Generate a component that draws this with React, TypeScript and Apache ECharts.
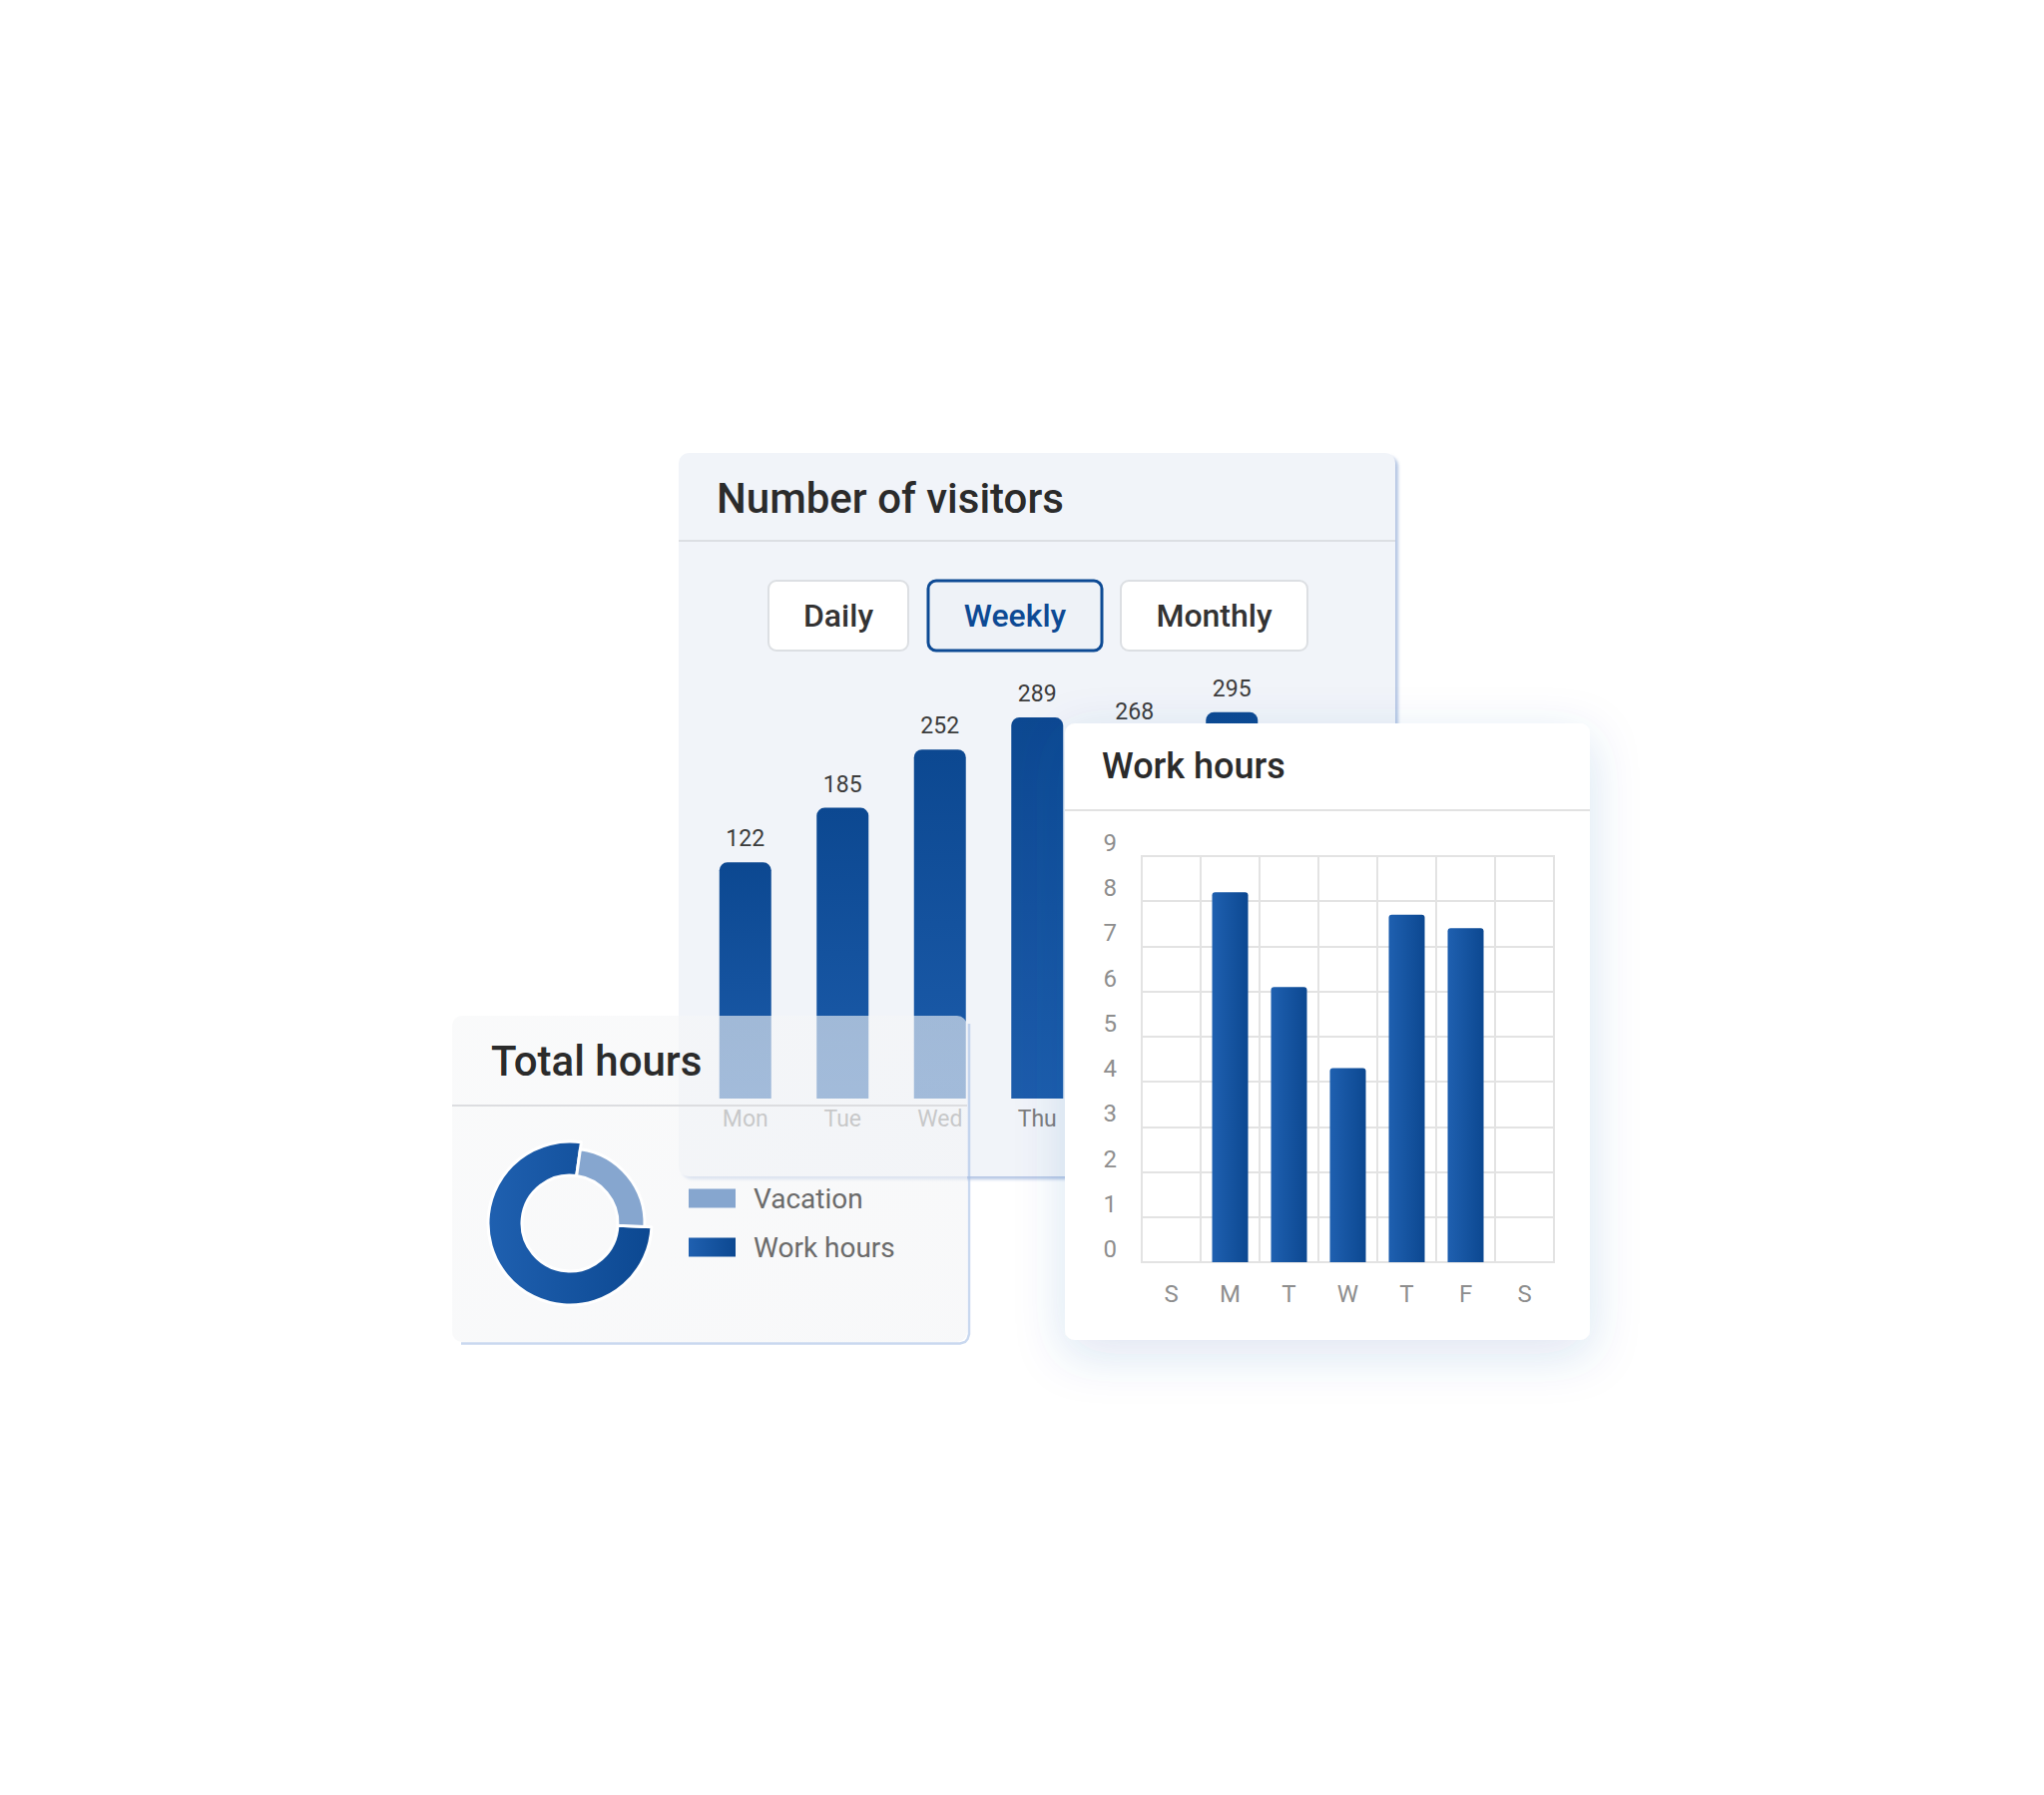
import { useEffect, useRef } from "react";
import * as echarts from "echarts";

// visitors card
const visitorDays = ["Mon", "Tue", "Wed", "Thu", "Fri", "Sat"];
const visitorCounts = [122, 185, 252, 289, 268, 295];
const periodTabs = ["Daily", "Weekly", "Monthly"];
const activeTab = "Weekly";

// total hours card
const shareNames = ["Vacation", "Work hours"];
const shareValues = [23.5, 76.5];

// work hours card
const workDays = ["S", "M", "T", "W", "T", "F", "S"];
const workHours = [0, 8.2, 6.1, 4.3, 7.7, 7.4, 0];

// the mockup bars all start from a common pedestal below the value
const VISITOR_BASE = 150;

const FONT = "Roboto";
const BLUE_DARK = "#0c4891";
const BLUE_LIGHT = "#1f60b0";
const VACATION = "#86a6cf";

export default function App() {
  const chartRef = useRef<HTMLDivElement>(null);

  useEffect(() => {
    if (!chartRef.current) return;
    const chart = echarts.init(chartRef.current, undefined, { renderer: "svg" });

    const vGrad = () =>
      new echarts.graphic.LinearGradient(0, 0, 0, 1, [
        { offset: 0, color: BLUE_DARK },
        { offset: 1, color: "#1c5cab" },
      ]);
    const hGrad = () =>
      new echarts.graphic.LinearGradient(0, 0, 1, 0, [
        { offset: 0, color: BLUE_LIGHT },
        { offset: 1, color: BLUE_DARK },
      ]);

    const tabBoxes = [
      { x: 770, w: 140 },
      { x: 930, w: 174 },
      { x: 1123, w: 187 },
    ];

    const tabGraphics = periodTabs.flatMap((name, i) => {
      const b = tabBoxes[i];
      const on = name === activeTab;
      return [
        {
          type: "rect",
          z: 1,
          shape: { x: b.x, y: 582, width: b.w, height: 70, r: 8 },
          style: {
            fill: on ? "#eef2f7" : "#ffffff",
            stroke: on ? "#0d4a94" : "#dcdfe3",
            lineWidth: on ? 3 : 2,
          },
        },
        {
          type: "text",
          z: 1,
          x: b.x + b.w / 2,
          y: 617,
          style: {
            text: name,
            fontSize: 32,
            fontWeight: 500,
            fontFamily: FONT,
            fill: on ? "#0d4a94" : "#333333",
            align: "center",
            verticalAlign: "middle",
          },
        },
      ];
    });

    const title = (text: string, x: number, y: number, size: number, z: number) => ({
      type: "text",
      z,
      x,
      y,
      style: {
        text,
        fontSize: size,
        fontWeight: 500,
        fontFamily: FONT,
        fill: "#2b2b2b",
        align: "left",
        verticalAlign: "middle",
      },
    });

    const divider = (x1: number, x2: number, y: number, z: number, color: string) => ({
      type: "line",
      z,
      shape: { x1, y1: y, x2, y2: y },
      style: { stroke: color, lineWidth: 2 },
    });

    chart.setOption({
      animation: false,
      backgroundColor: "#ffffff",
      textStyle: { fontFamily: FONT },
      graphic: [
        // Number of visitors card
        {
          type: "rect",
          z: 0,
          shape: { x: 680, y: 454, width: 718, height: 725, r: 10 },
          style: {
            fill: "#f1f4f9",
            shadowColor: "rgba(120,150,205,0.55)",
            shadowBlur: 3,
            shadowOffsetX: 3,
            shadowOffsetY: 3,
          },
        },
        title("Number of visitors", 718, 499, 42, 1),
        divider(680, 1398, 542, 1, "#dcdfe3"),
        ...tabGraphics,
        // Total hours card (frosted glass)
        {
          type: "rect",
          z: 3,
          shape: { x: 453, y: 1018, width: 516, height: 327, r: 10 },
          style: {
            fill: new echarts.graphic.LinearGradient(0, 0, 1, 1, [
              { offset: 0, color: "rgba(246,247,248,0.62)" },
              { offset: 1, color: "rgba(243,244,246,0.62)" },
            ]),
          },
        },
        {
          type: "polyline",
          z: 3,
          shape: {
            points: [
              [462, 1346.5],
              [962, 1346.5],
              [967, 1345],
              [969.5, 1342],
              [971, 1337],
              [971, 1026],
            ],
          },
          style: { stroke: "rgba(165,190,228,0.6)", lineWidth: 2.5, fill: "none" },
        },
        title("Total hours", 492, 1063, 42, 4),
        divider(453, 969, 1108, 4, "#dcdde0"),
        // Work hours card
        {
          type: "rect",
          z: 6,
          shape: { x: 1067, y: 725, width: 526, height: 618, r: 10 },
          style: {
            fill: "#ffffff",
            shadowColor: "rgba(40,90,170,0.16)",
            shadowBlur: 50,
            shadowOffsetY: 14,
          },
        },
        title("Work hours", 1104, 768, 36, 7),
        divider(1067, 1593, 812, 7, "#e2e2e2"),
      ],
      grid: [
        { left: 698, width: 585, top: 666, height: 435, z: 2 },
        {
          left: 1144,
          width: 413,
          top: 858,
          height: 407,
          z: 7,
          show: true,
          backgroundColor: "transparent",
          borderColor: "#e3e3e3",
          borderWidth: 2,
        },
      ],
      xAxis: [
        {
          type: "category",
          gridIndex: 0,
          z: 2,
          data: visitorDays,
          axisLine: { show: false },
          axisTick: { show: false },
          axisLabel: { color: "#7d7d7d", fontSize: 23, margin: 9 },
        },
        {
          type: "category",
          gridIndex: 1,
          z: 7,
          data: workDays,
          axisLine: { lineStyle: { color: "#e3e3e3", width: 2 } },
          axisTick: { show: false },
          splitLine: { show: true, lineStyle: { color: "#e3e3e3", width: 2 } },
          axisLabel: { color: "#8e8e8e", fontSize: 24, margin: 20 },
        },
      ],
      yAxis: [
        { type: "value", gridIndex: 0, min: 0, max: 500, show: false },
        {
          type: "value",
          gridIndex: 1,
          z: 7,
          min: 0,
          max: 9,
          interval: 1,
          axisLine: { show: false },
          axisTick: { show: false },
          splitLine: { lineStyle: { color: "#e3e3e3", width: 2 } },
          axisLabel: {
            color: "#8e8e8e",
            fontSize: 24,
            margin: 25,
            verticalAlign: "bottom",
            padding: [0, 0, 1, 0],
          },
        },
      ],
      legend: {
        z: 5,
        orient: "vertical",
        left: 690,
        top: 1187,
        padding: 0,
        icon: "rect",
        itemWidth: 47,
        itemHeight: 19,
        itemGap: 21,
        itemStyle: { borderWidth: 0 },
        textStyle: {
          color: "#6b6b6b",
          fontSize: 28,
          lineHeight: 28,
          fontFamily: FONT,
          padding: [0, 0, 0, 13],
        },
        data: [
          { name: shareNames[0], itemStyle: { color: VACATION, borderWidth: 0 } },
          { name: shareNames[1], itemStyle: { color: hGrad(), borderWidth: 0 } },
        ],
      },
      series: [
        {
          type: "bar",
          z: 2,
          xAxisIndex: 0,
          yAxisIndex: 0,
          barWidth: 52,
          data: visitorCounts.map((v) => v + VISITOR_BASE),
          itemStyle: { color: vGrad(), borderRadius: [8, 8, 0, 0] },
          label: {
            show: true,
            position: "top",
            distance: 12,
            color: "#3c3c3c",
            fontSize: 23,
            formatter: (p: { dataIndex: number }) => String(visitorCounts[p.dataIndex]),
          },
        },
        {
          type: "pie",
          z: 5,
          silent: true,
          center: [571, 1226],
          radius: [48, 82],
          startAngle: 82,
          label: { show: false },
          labelLine: { show: false },
          data: shareNames.map((name, i) => ({
            name,
            value: shareValues[i],
            itemStyle:
              i === 0
                ? { color: "transparent", borderWidth: 0 }
                : { color: hGrad(), borderColor: "#ffffff", borderWidth: 3 },
          })),
        },
        {
          type: "pie",
          z: 5,
          silent: true,
          center: [571, 1226],
          radius: [48, 75],
          startAngle: 82,
          label: { show: false },
          labelLine: { show: false },
          data: shareNames.map((name, i) => ({
            name,
            value: shareValues[i],
            itemStyle:
              i === 0
                ? { color: VACATION, borderColor: "#ffffff", borderWidth: 3 }
                : { color: "transparent", borderWidth: 0 },
          })),
        },
        {
          type: "bar",
          z: 8,
          xAxisIndex: 1,
          yAxisIndex: 1,
          barWidth: 36,
          data: workHours,
          itemStyle: { color: hGrad(), borderRadius: [3, 3, 0, 0] },
        },
      ],
    });

    return () => {
      chart.dispose();
    };
  }, []);

  return (
    <div
      ref={chartRef}
      style={{ position: "fixed", left: 0, top: 0, width: 2048, height: 1799 }}
    />
  );
}
